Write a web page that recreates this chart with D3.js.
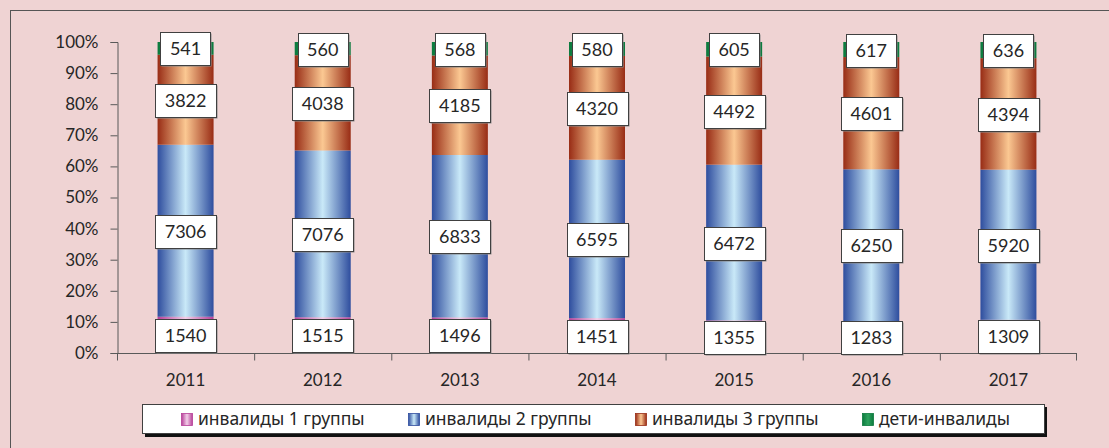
<!DOCTYPE html>
<html>
<head>
<meta charset="utf-8">
<script src="https://cdn.jsdelivr.net/npm/d3@7"></script>
<style>
  html, body { margin: 0; padding: 0; background: #efd3d3; }
  svg { display: block; }
  text { font-family: Lato, 'Noto Sans', sans-serif; fill: #262626; }
  .legend text { font-family: 'Noto Sans', sans-serif; }
</style>
</head>
<body>
<div class="chart"></div>
<script>
const years = ['2011', '2012', '2013', '2014', '2015', '2016', '2017']
const group1 = [1540, 1515, 1496, 1451, 1355, 1283, 1309]
const group2 = [7306, 7076, 6833, 6595, 6472, 6250, 5920]
const group3 = [3822, 4038, 4185, 4320, 4492, 4601, 4394]
const children = [541, 560, 568, 580, 605, 617, 636]
const seriesNames = ['инвалиды 1 группы', 'инвалиды 2 группы', 'инвалиды 3 группы', 'дети-инвалиды']
const yTicks = [0, 0.1, 0.2, 0.3, 0.4, 0.5, 0.6, 0.7, 0.8, 0.9, 1]

// edge / centre colours for the bar gradients
const gradColors = [
  ['#b63f98', '#f3cfe9'],
  ['#2e4d9e', '#c9e9f8'],
  ['#982c15', '#fbc892'],
  ['#0c7a3e', '#2ea35e']
]

const width = 1109, height = 448

const svg = d3.select('.chart')
  .append('svg')
  .attr('width', width)
  .attr('height', height)

const defs = svg.append('defs')
gradColors.forEach((c, i) => {
  let g = defs.append('linearGradient')
    .attr('id', 'grad' + i)
    .attr('x1', 0).attr('x2', 1).attr('y1', 0).attr('y2', 0)
  g.append('stop').attr('offset', '0%').attr('stop-color', c[0])
  g.append('stop').attr('offset', '50%').attr('stop-color', c[1])
  g.append('stop').attr('offset', '100%').attr('stop-color', c[0])
})

// outer chart border
svg.append('rect')
  .attr('x', 10.5).attr('y', 10.5)
  .attr('width', width + 20).attr('height', height + 20)
  .attr('fill', 'none')
  .attr('stroke', '#555')

const x = d3.scaleBand()
  .domain(years)
  .range([117, 1077])

const y = d3.scaleLinear()
  .domain([0, 1])
  .range([353, 42])

const barWidth = 56

const table = years.map((yr, i) => {
  let vals = [group1[i], group2[i], group3[i], children[i]]
  let total = d3.sum(vals)
  let acc = 0
  return vals.map((v, k) => {
    let seg = { year: yr, k: k, value: v, y0: acc / total, y1: (acc + v) / total }
    acc += v
    return seg
  })
})

// bars
let bars = svg.append('g')
table.forEach(segs => {
  bars.selectAll(null)
    .data(segs)
    .enter()
    .append('rect')
    .attr('x', d => x(d.year) + x.bandwidth() / 2 - barWidth / 2)
    .attr('width', barWidth)
    .attr('y', d => y(d.y1))
    .attr('height', d => y(d.y0) - y(d.y1))
    .attr('fill', d => 'url(#grad' + d.k + ')')
})

// y axis
const yAxis = svg.append('g')
  .attr('transform', 'translate(117.5,0)')
  .call(d3.axisLeft(y).tickValues(yTicks).tickFormat(d3.format('.0%')).tickSize(7).tickPadding(12))
yAxis.select('.domain').attr('stroke', '#595959')
yAxis.selectAll('.tick line').attr('stroke', '#595959')
yAxis.selectAll('.tick text').style('font-size', '17px').attr('fill', '#262626')

// x axis with ticks at category boundaries
const xAxis = svg.append('g')
  .attr('transform', 'translate(0,353.5)')
  .call(d3.axisBottom(x).tickSize(0).tickPadding(20))
xAxis.select('.domain').attr('stroke', '#595959').attr('d', 'M117,0H1077')
xAxis.selectAll('.tick text').style('font-size', '17px').attr('fill', '#262626')
xAxis.selectAll('.bound')
  .data(years.concat(['end']))
  .enter()
  .append('line')
  .attr('x1', (d, i) => i < years.length ? x(d) + 0.5 : x.range()[1] - 0.5)
  .attr('x2', (d, i) => i < years.length ? x(d) + 0.5 : x.range()[1] - 0.5)
  .attr('y1', 0).attr('y2', 7)
  .attr('stroke', '#595959')

// value labels
let labels = svg.append('g')
table.forEach(segs => {
  segs.forEach(d => {
    let cx = x(d.year) + x.bandwidth() / 2
    let cy = y((d.y0 + d.y1) / 2)
    let g = labels.append('g')
    let t = g.append('text')
      .attr('x', cx)
      .attr('y', cy + 0.5)
      .attr('text-anchor', 'middle')
      .attr('dy', '0.36em')
      .style('font-size', '18px')
      .text(d.value)
    let w = t.node().getComputedTextLength() + 19
    g.insert('rect', 'text')
      .attr('x', Math.round(cx - w / 2) + 1.5)
      .attr('y', Math.round(cy - 16) + 1.5)
      .attr('width', Math.round(w))
      .attr('height', 33)
      .attr('fill', '#8a8a8a')
    g.insert('rect', 'text')
      .attr('x', Math.round(cx - w / 2) + 0.5)
      .attr('y', Math.round(cy - 16) + 0.5)
      .attr('width', Math.round(w))
      .attr('height', 33)
      .attr('fill', '#fff')
      .attr('stroke', '#404040')
  })
})

// legend
const legend = svg.append('g').attr('class', 'legend')
legend.append('rect')
  .attr('x', 145).attr('y', 407)
  .attr('width', 902).attr('height', 30)
  .attr('fill', '#111')
legend.append('rect')
  .attr('x', 142.5).attr('y', 404.5)
  .attr('width', 902).attr('height', 29)
  .attr('fill', '#fff')
  .attr('stroke', '#404040')

const legendX = d3.scalePoint()
  .domain(seriesNames)
  .range([181, 862])

seriesNames.forEach((name, i) => {
  let lx = legendX(name)
  legend.append('rect')
    .attr('x', lx + 0.5).attr('y', 413.5)
    .attr('width', 11).attr('height', 12)
    .attr('fill', 'url(#grad' + i + ')')
    .attr('stroke', gradColors[i][0])
    .attr('stroke-width', 0.8)
  legend.append('text')
    .attr('x', lx + 17)
    .attr('y', 419)
    .attr('dy', '0.35em')
    .style('font-size', '17.5px')
    .text(name)
})
</script>
</body>
</html>
